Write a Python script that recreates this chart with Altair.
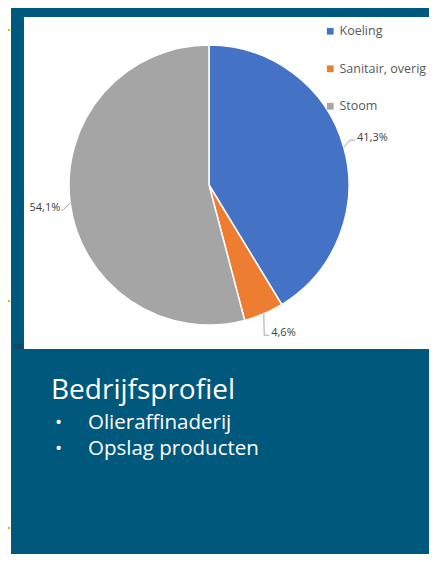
import altair as alt
import pandas as pd

# ---- data ----
categories = ["Koeling", "Sanitair, overig", "Stoom"]
values = [41.3, 4.6, 54.1]
slice_colors = ["#4472C4", "#ED7D31", "#A5A5A5"]
heading = "Bedrijfsprofiel"
bullets = ["Olieraffinaderij", "Opslag producten"]

# ---- layout (svg coords = page coords - 8) ----
W, H = 421, 546
CX, CY, R = 201, 177, 140
BLUE = "#00587c"
GREEN = "#a5c400"
FONT = "Open Sans"

df = pd.DataFrame({"category": categories, "value": values})
one = pd.DataFrame({"k": [0]})

layers = []

# green arrow markers on the left margin
tri = "M -1 -0.85 L 1 0 L -1 0.85 Z"
for ty in (22, 293, 520):
    layers.append(
        alt.Chart(one).mark_point(shape=tri, filled=True, color=GREEN, opacity=1, size=121)
        .encode(x=alt.value(-2.5), y=alt.value(ty))
    )

# blue slide background
layers.append(alt.Chart(one).mark_rect(color=BLUE).encode(
    x=alt.value(3), x2=alt.value(W), y=alt.value(0), y2=alt.value(H)))
# white chart area
layers.append(alt.Chart(one).mark_rect(color="white").encode(
    x=alt.value(16), x2=alt.value(W), y=alt.value(9), y2=alt.value(341)))
# small darker block
layers.append(alt.Chart(one).mark_rect(color="#0b4b69").encode(
    x=alt.value(5), x2=alt.value(15), y=alt.value(336), y2=alt.value(341)))

# pie
pie = (
    alt.Chart(df)
    .transform_window(rn="row_number()")
    .mark_arc(outerRadius=R, stroke="white", strokeWidth=1.5)
    .encode(
        theta=alt.Theta("value:Q", stack=True),
        color=alt.Color(
            "category:N",
            scale=alt.Scale(domain=categories, range=slice_colors),
            legend=alt.Legend(
                orient="none", legendX=316, legendY=17, direction="vertical",
                title=None, symbolType="square", symbolSize=45, symbolStrokeWidth=0,
                labelFont=FONT, labelFontSize=12.5, labelColor="#595959",
                labelLimit=0, labelOffset=3, rowPadding=24.5,
            ),
        ),
        order=alt.Order("rn:Q"),
        x=alt.value(CX),
        y=alt.value(CY),
    )
)
layers.append(pie)

# label geometry derived from the data (leader: slice edge -> elbow -> short tail)
geo = (
    alt.Chart(df)
    .transform_window(rn="row_number()", cum="sum(value)", frame=[None, 0])
    .transform_joinaggregate(total="sum(value)")
    .transform_calculate(mid="2*PI*(datum.cum - datum.value/2)/datum.total")
    .transform_calculate(s="sin(datum.mid)", c="cos(datum.mid)")
    .transform_calculate(
        ax=f"{CX} + {R}*datum.s", ay=f"{CY} - {R}*datum.c",
    )
    .transform_calculate(
        bx="datum.ax + 7*pow(datum.s, 3)",
        by="datum.ay - (datum.c > 0 ? 1 : -1)*(7 + 20*pow(datum.c, 4))",
    )
    .transform_calculate(
        cx="datum.bx + (datum.s > 0 ? 5 : -2)",
        lbl="replace(format(datum.value, '.1f'), '.', ',') + '%'",
    )
)
lc = "#a6a6a6"
layers.append(geo.mark_rule(color=lc, strokeWidth=1).encode(
    x=alt.X("ax:Q", scale=None, axis=None), y=alt.Y("ay:Q", scale=None, axis=None),
    x2="bx:Q", y2="by:Q"))
layers.append(geo.mark_rule(color=lc, strokeWidth=1).encode(
    x=alt.X("bx:Q", scale=None, axis=None), y=alt.Y("by:Q", scale=None, axis=None),
    x2="cx:Q", y2="by:Q"))
layers.append(geo.transform_filter("datum.s > 0").mark_text(
    align="left", baseline="alphabetic", dx=2, dy=1, font=FONT, fontSize=11, color="#404040").encode(
    x=alt.X("cx:Q", scale=None, axis=None), y=alt.Y("by:Q", scale=None, axis=None), text="lbl:N"))
layers.append(geo.transform_filter("datum.s <= 0").mark_text(
    align="right", baseline="alphabetic", dx=-1, dy=1, font=FONT, fontSize=11, color="#404040").encode(
    x=alt.X("cx:Q", scale=None, axis=None), y=alt.Y("by:Q", scale=None, axis=None), text="lbl:N"))

# lower text block
layers.append(alt.Chart(one).mark_text(
    align="left", baseline="alphabetic", font=FONT, fontSize=28, color="white").encode(
    x=alt.value(43), y=alt.value(391), text=alt.value(heading)))
for i, b in enumerate(bullets):
    yy = 421 + 26 * i
    layers.append(alt.Chart(one).mark_text(
        align="center", baseline="alphabetic", font=FONT, fontSize=19, color="white").encode(
        x=alt.value(50.5), y=alt.value(yy), text=alt.value("•")))
    layers.append(alt.Chart(one).mark_text(
        align="left", baseline="alphabetic", font=FONT, fontSize=20.5, color="white").encode(
        x=alt.value(80), y=alt.value(yy), text=alt.value(b)))

chart = (
    alt.layer(*layers)
    .properties(width=W, height=H, padding=0, autosize=alt.AutoSizeParams(type="none"),
                background="white")
    .configure_view(strokeWidth=0)
)

chart.save("out.html", embed_options={"renderer": "svg", "actions": False})
